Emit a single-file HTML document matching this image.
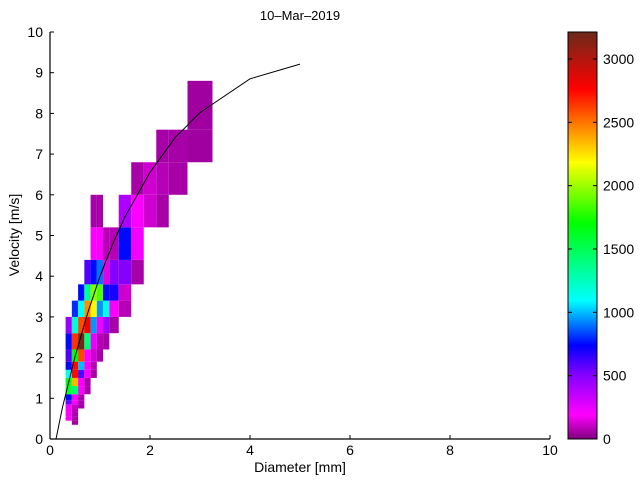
<!DOCTYPE html>
<html><head><meta charset="utf-8"><style>
body{margin:0;background:#fff;}
svg{display:block;font-family:"Liberation Sans",Arial,sans-serif;}
</style></head><body>
<svg id="chart" width="640" height="480" viewBox="0 0 640 480" xmlns="http://www.w3.org/2000/svg">
<rect width="640" height="480" fill="#fff"/>
<text x="300" y="20" font-size="13" text-anchor="middle">10–Mar–2019</text>
<g id="cells"></g>
<g id="curve"></g>
<g id="axes"></g>
<text x="300" y="472" font-size="14" text-anchor="middle">Diameter [mm]</text>
<text transform="translate(19,235) rotate(-90)" font-size="14" text-anchor="middle">Velocity [m/s]</text>
<defs><linearGradient id="cmap" x1="0" y1="1" x2="0" y2="0"></linearGradient></defs>
<g id="cbar"></g>
</svg>
<script>
const dEdges=[0.312,0.437,0.562,0.687,0.812,0.937,1.062,1.187,1.375,1.625,1.875,2.125,2.375,2.75,3.25];
const vEdges=[0.35,0.45,0.55,0.65,0.75,0.85,0.95,1.1,1.3,1.5,1.7,1.9,2.2,2.6,3.0,3.4,3.8,4.4,5.2,6.0,6.8,7.6,8.8];
const cellCol=[1, 0,1, 0,1, 0,1, 0,1,2, 0,1,2, 0,1,2, 0,1,2,3, 0,1,2,3, 0,1,2,3,4, 0,1,2,3,4, 0,1,2,3,4,5, 0,1,2,3,4,5,6, 0,1,2,3,4,5,6,7, 1,2,3,4,5,6,7,8, 2,3,4,5,6,7,8, 3,4,5,6,7,8,9, 4,5,6,7,8,9, 4,5,8,9,10,11, 9,10,11,12, 11,12,13, 13];
const cellRow=[0, 1,1, 2,2, 3,3, 4,4,4, 5,5,5, 6,6,6, 7,7,7,7, 8,8,8,8, 9,9,9,9,9, 10,10,10,10,10, 11,11,11,11,11,11, 12,12,12,12,12,12,12, 13,13,13,13,13,13,13,13, 14,14,14,14,14,14,14,14, 15,15,15,15,15,15,15, 16,16,16,16,16,16,16, 17,17,17,17,17,17, 18,18,18,18,18,18, 19,19,19,19, 20,20,20, 21];
const cellCount=[50, 200,60, 200,60, 200,80, 220,100,50, 550,200,60, 750,220,60, 1600,1450,200,60, 1650,2350,200,60, 1100,2750,600,200,60, 750,2750,1000,200,80, 600,1700,2600,200,120,60, 750,2650,3200,1400,250,80,60, 450,1200,2600,2800,950,220,450,60, 800,1100,2450,2200,950,1150,200,80, 750,1350,1950,1850,750,700,120, 600,750,900,150,500,500,60, 200,200,80,80,750,220, 60,60,400,200,120,60, 60,120,80,60, 60,60,50, 50];
const curveD=[0.12,0.25,0.5,0.75,1.0,1.25,1.5,2.0,2.5,3.0,4.0,5.0];
const curveV=[0,0.78,2.02,3.08,4.0,4.78,5.46,6.55,7.4,8.02,8.85,9.21];
const xTicks=[0,2,4,6,8,10];
const yTicks=[0,1,2,3,4,5,6,7,8,9,10];
const cTicks=[0,500,1000,1500,2000,2500,3000];
const cMax=3213;
const X0=50,X1=550,Y0=439,Y1=32;
const sx=d=>X0+d/10*(X1-X0);
const sy=v=>Y0-v/10*(Y0-Y1);
const stops=[[0,[128,0,128]],[0.06,[255,0,255]],[0.16,[128,0,255]],[0.23,[0,0,255]],[0.34,[0,255,255]],[0.53,[0,255,0]],[0.68,[255,255,0]],[0.77,[255,128,0]],[0.86,[255,0,0]],[1,[107,42,26]]];
function cmap(t){t=Math.max(0,Math.min(1,t));for(let i=1;i<stops.length;i++){if(t<=stops[i][0]){const a=stops[i-1],b=stops[i],f=(t-a[0])/(b[0]-a[0]);const c=a[1].map((v,k)=>Math.round(v+(b[1][k]-v)*f));return `rgb(${c[0]},${c[1]},${c[2]})`;}}return 'rgb(107,42,26)';}
const NS='http://www.w3.org/2000/svg';
function mk(tag,attrs,parent){const e=document.createElementNS(NS,tag);for(const k in attrs)e.setAttribute(k,attrs[k]);parent.appendChild(e);return e;}
const gc=document.getElementById('cells');
for(let i=0;i<cellCount.length;i++){
 const c=cellCol[i],r=cellRow[i];
 const x=sx(dEdges[c]),x2=sx(dEdges[c+1]),y=sy(vEdges[r+1]),y2=sy(vEdges[r]);
 const e=mk('rect',{x:x,y:y,width:x2-x,height:y2-y,fill:cmap(cellCount[i]/cMax)},gc);
 
 
}
const gl=document.getElementById('curve');
const pl=mk('polyline',{points:curveD.map((d,i)=>sx(d)+','+sy(curveV[i])).join(' '),fill:'none',stroke:'#000','stroke-width':1},gl);


const ga=document.getElementById('axes');
const xa=mk('line',{x1:X0,y1:Y0,x2:X1,y2:Y0,stroke:'#000','stroke-width':1.2},ga);


const ya=mk('line',{x1:X0,y1:Y0,x2:X0,y2:Y1,stroke:'#000','stroke-width':1.2},ga);


xTicks.forEach(t=>{
 mk('line',{x1:sx(t),y1:Y0,x2:sx(t),y2:Y0-4,stroke:'#000'},ga);
 const tx=mk('text',{x:sx(t),y:Y0+16,'font-size':14,'text-anchor':'middle'},ga);
 tx.textContent=t;
 
 
});
yTicks.forEach(t=>{
 mk('line',{x1:X0,y1:sy(t),x2:X0+4,y2:sy(t),stroke:'#000'},ga);
 const tx=mk('text',{x:X0-7,y:sy(t)+5,'font-size':14,'text-anchor':'end'},ga);
 tx.textContent=t;
 
 
});
const grad=document.getElementById('cmap');
stops.forEach(s=>{mk('stop',{offset:s[0],'stop-color':`rgb(${s[1].join(',')})`},grad);});
const cb=document.getElementById('cbar');
const CX=568,CW=29;
const cr=mk('rect',{x:CX,y:Y1,width:CW,height:Y0-Y1,fill:'url(#cmap)',stroke:'#000','stroke-width':1},cb);


const cy=v=>Y0-v/cMax*(Y0-Y1);
cTicks.forEach(t=>{
 mk('line',{x1:CX+CW,y1:cy(t),x2:CX+CW-4,y2:cy(t),stroke:'#000'},cb);
 mk('line',{x1:CX,y1:cy(t),x2:CX+4,y2:cy(t),stroke:'#000'},cb);
 const tx=mk('text',{x:CX+CW+6,y:cy(t)+5,'font-size':14},cb);
 tx.textContent=t;
 
 
});
</script>
</body></html>
